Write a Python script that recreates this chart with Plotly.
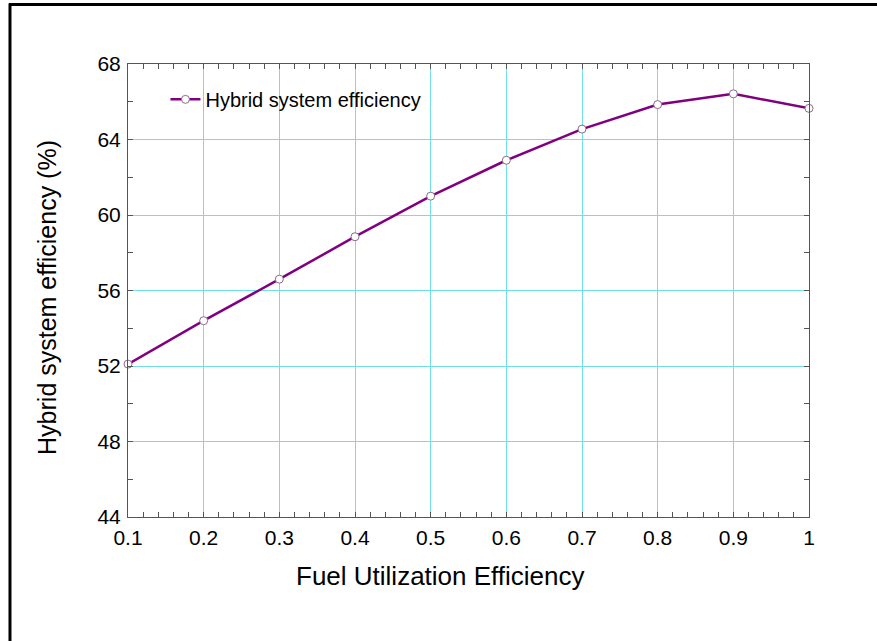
import plotly.graph_objects as go

fuel_util = [0.1, 0.2, 0.3, 0.4, 0.5, 0.6, 0.7, 0.8, 0.9, 1.0]
hybrid_eff = [52.1, 54.4, 56.6, 58.85, 61.0, 62.9, 64.55, 65.85, 66.42, 65.65]
x_ticks = [0.1, 0.2, 0.3, 0.4, 0.5, 0.6, 0.7, 0.8, 0.9, 1.0]
x_tick_labels = ["0.1", "0.2", "0.3", "0.4", "0.5", "0.6", "0.7", "0.8", "0.9", "1"]
y_ticks = [44, 48, 52, 56, 60, 64, 68]

FONT = "Liberation Sans, Arial, sans-serif"

fig = go.Figure()
fig.add_trace(go.Scatter(
    x=fuel_util, y=hybrid_eff, mode="lines+markers",
    name="Hybrid system efficiency",
    line=dict(color="#800080", width=2.5),
    marker=dict(symbol="circle", size=8, color="white",
                line=dict(color="#8a6a8a", width=1)),
    cliponaxis=False,
))

axis_common = dict(
    showline=True, linecolor="#555555", linewidth=1, mirror="ticks",
    ticks="inside", ticklen=5, tickcolor="#555555",
    showgrid=True, gridcolor="#6EE0E6", gridwidth=1,
    zeroline=False,
    tickfont=dict(family=FONT, size=21, color="black"),
)

fig.update_xaxes(
    range=[0.1, 1.0], tickvals=x_ticks, ticktext=x_tick_labels,
    minor=dict(dtick=0.02, tick0=0.1, ticks="inside", ticklen=5, tickcolor="#555555", showgrid=False),
    ticklabelstandoff=2,
    **axis_common,
)
fig.update_yaxes(
    range=[44, 68], tickvals=y_ticks,
    minor=dict(dtick=2, tick0=44, ticks="inside", ticklen=5, tickcolor="#555555", showgrid=False),
    ticklabelstandoff=2,
    **axis_common,
)

fig.update_layout(
    width=877, height=641,
    margin=dict(l=128, r=68, t=64, b=124),
    paper_bgcolor="white", plot_bgcolor="white",
    showlegend=True,
    legend=dict(x=0.055, y=0.965, xanchor="left", yanchor="top",
                bgcolor="rgba(0,0,0,0)", borderwidth=0,
                font=dict(family=FONT, size=20, color="black"),
                itemwidth=30),
    annotations=[
        dict(text="Fuel Utilization Efficiency", xref="paper", yref="paper",
             x=0.4596, y=-0.130, xanchor="center", yanchor="middle", showarrow=False,
             font=dict(family=FONT, size=26, color="black")),
        dict(text="Hybrid system efficiency (%)", xref="paper", yref="paper",
             x=-0.119, y=0.4857, xanchor="center", yanchor="middle", showarrow=False,
             textangle=-90, font=dict(family=FONT, size=25, color="black")),
    ],
    shapes=[
        dict(type="line", xref="paper", yref="paper", x0=-0.1747, x1=1.1, y0=1.1313, y1=1.1313,
             line=dict(color="black", width=3)),
        dict(type="line", xref="paper", yref="paper", x0=-0.1733, x1=-0.1733, y0=1.1335, y1=-0.28,
             line=dict(color="black", width=3)),
    ],
)

fig.write_html("out.html")
